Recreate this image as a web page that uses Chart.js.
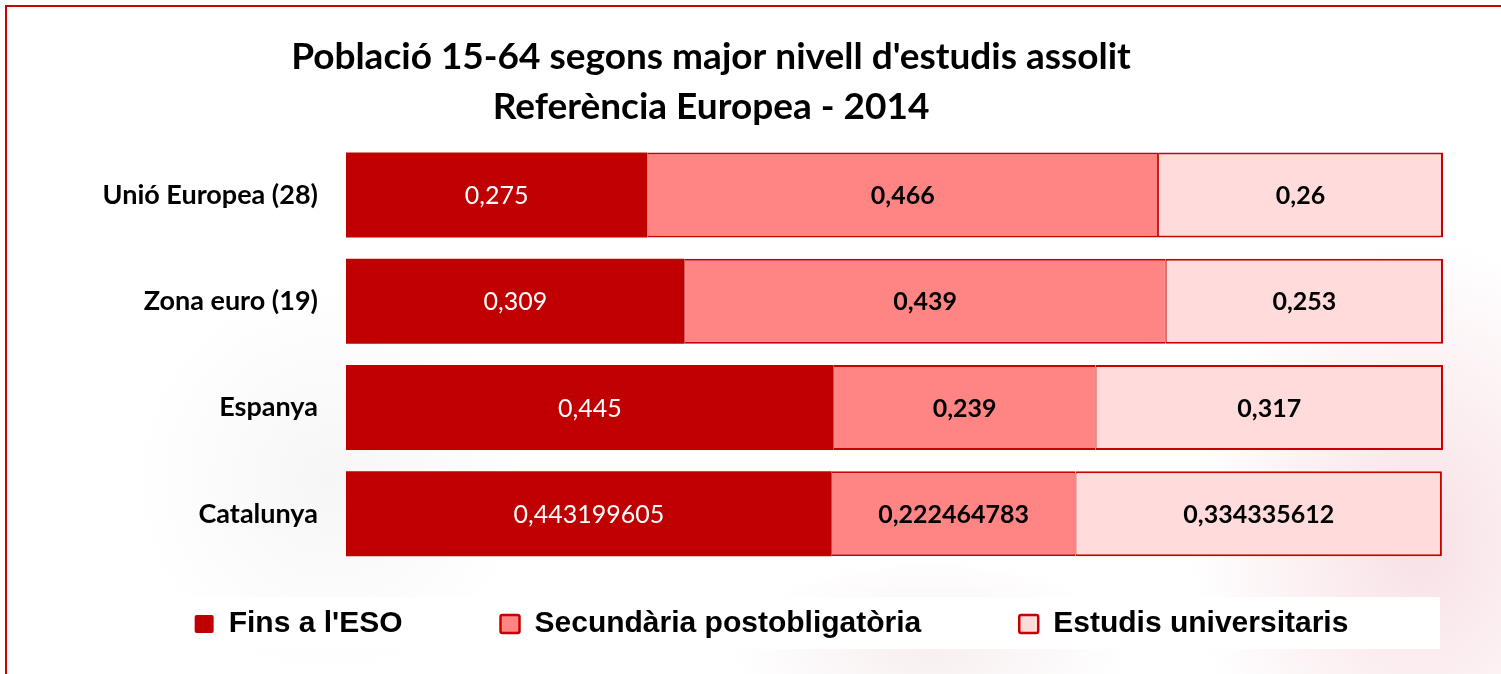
<!DOCTYPE html>
<html>
<head>
<meta charset="utf-8">
<script src="https://cdn.jsdelivr.net/npm/chart.js@4/dist/chart.umd.min.js"></script>
<style>
  html, body { margin: 0; padding: 0; background: #ffffff; overflow: hidden; }
  #wrap {
    position: relative; width: 1501px; height: 674px;
    background:
      radial-gradient(ellipse 230px 300px at 1420px 540px, rgba(232,160,175,0.32), rgba(255,255,255,0) 100%),
      radial-gradient(ellipse 200px 90px at 930px 650px, rgba(225,190,195,0.25), rgba(255,255,255,0) 100%),
      radial-gradient(ellipse 200px 200px at 330px 480px, rgba(0,0,0,0.035), rgba(255,255,255,0) 100%),
      #ffffff;
  }
  #frame {
    position: absolute; left: 5px; top: 5px; width: 1700px; height: 900px;
    border-top: 2px solid #cc0000; border-left: 2px solid #cc0000; box-sizing: border-box;
    pointer-events: none;
  }
  canvas { position: absolute; left: 0; top: 0; }
</style>
</head>
<body>
<div id="wrap">
  <canvas id="c" width="1501" height="674"></canvas>
  <div id="frame"></div>
</div>
<script>
// ---- data ----
const categories = ['Unió Europea (28)', 'Zona euro (19)', 'Espanya', 'Catalunya'];
const seriesNames = ["Fins a l'ESO", 'Secundària postobligatòria', 'Estudis universitaris'];
const finsESO = [0.275, 0.309, 0.445, 0.443199605];
const secundaria = [0.466, 0.439, 0.239, 0.222464783];
const universitaris = [0.26, 0.253, 0.317, 0.334335612];
const titleLines = ["Població 15-64 segons major nivell d'estudis assolit", 'Referència Europea - 2014'];

const fmt = v => String(v).replace('.', ',');

const dataLabels = {
  id: 'dataLabels',
  afterDatasetsDraw(chart) {
    const ctx = chart.ctx;
    ctx.save();
    ctx.textAlign = 'center';
    ctx.textBaseline = 'middle';
    chart.data.datasets.forEach((ds, di) => {
      const meta = chart.getDatasetMeta(di);
      meta.data.forEach((el, i) => {
        const x = (el.x + el.base) / 2;
        ctx.font = (di === 0 ? '400 ' : '700 ') + '25px Lato';
        ctx.fillStyle = di === 0 ? '#ffffff' : '#000000';
        ctx.fillText(fmt(ds.data[i]), x, el.y + 1);
      });
    });
    ctx.restore();
  }
};

const boxTweaks = {
  id: 'boxTweaks',
  afterLayout(chart) {
    if (chart.titleBlock) { chart.titleBlock.left = 0; chart.titleBlock.right = 1422; }
    if (chart.legend) {
      chart.legend.left = 0; chart.legend.right = 1543;
      chart.legend.top = chart.legend.top - 56;
      chart.legend.bottom = 674;
    }
  },
  beforeDraw(chart) {
    const ctx = chart.ctx;
    ctx.save();
    ctx.fillStyle = '#ffffff';
    ctx.fillRect(165, 597, 1275, 52);
    ctx.restore();
  }
};

new Chart(document.getElementById('c'), {
  type: 'bar',
  data: {
    labels: categories,
    datasets: [
      { label: seriesNames[0], data: finsESO, backgroundColor: '#c00000', borderColor: '#c00000',
        borderWidth: 0, borderRadius: 2, borderSkipped: false },
      { label: seriesNames[1], data: secundaria, backgroundColor: '#ff8585', borderColor: '#c80000',
        borderWidth: { top: 2, bottom: 2, left: 0, right: 1 }, borderSkipped: false },
      { label: seriesNames[2], data: universitaris, backgroundColor: '#ffdbdb', borderColor: '#c80000',
        borderWidth: { top: 2, bottom: 2, left: 1, right: 2 }, borderSkipped: false }
    ]
  },
  options: {
    indexAxis: 'y',
    responsive: false,
    animation: false,
    devicePixelRatio: 1,
    layout: { padding: { left: 0, right: 58, top: 0, bottom: 0 } },
    datasets: { bar: { categoryPercentage: 1, barPercentage: 0.8 } },
    scales: {
      x: { stacked: true, min: 0, max: 1.001, display: false },
      y: {
        stacked: true,
        grid: { display: false, drawTicks: false },
        border: { display: false },
        ticks: { color: '#000000', padding: 28, font: { family: 'Lato', weight: 'bold', size: 27 } },
        afterFit(scale) { scale.width = 346; }
      }
    },
    plugins: {
      title: {
        display: true,
        text: titleLines,
        color: '#000000',
        font: { family: 'Lato', weight: 'bold', size: 37, lineHeight: 1.351 },
        padding: { top: 32, bottom: 10 }
      },
      legend: {
        position: 'bottom',
        maxHeight: 107,
        labels: {
          color: '#000000',
          boxWidth: 19,
          boxHeight: 18,
          padding: 98,
          useBorderRadius: true,
          borderRadius: 2,
          font: { family: "'Liberation Sans', Arial, sans-serif", weight: 'bold', size: 30 },
          generateLabels(chart) {
            const items = Chart.defaults.plugins.legend.labels.generateLabels(chart);
            items.forEach((it, i) => {
              it.lineWidth = i === 0 ? 0 : 2.5;
              it.strokeStyle = '#c80000';
            });
            return items;
          }
        }
      },
      tooltip: { enabled: false }
    }
  },
  plugins: [dataLabels, boxTweaks]
});
</script>
</body>
</html>
